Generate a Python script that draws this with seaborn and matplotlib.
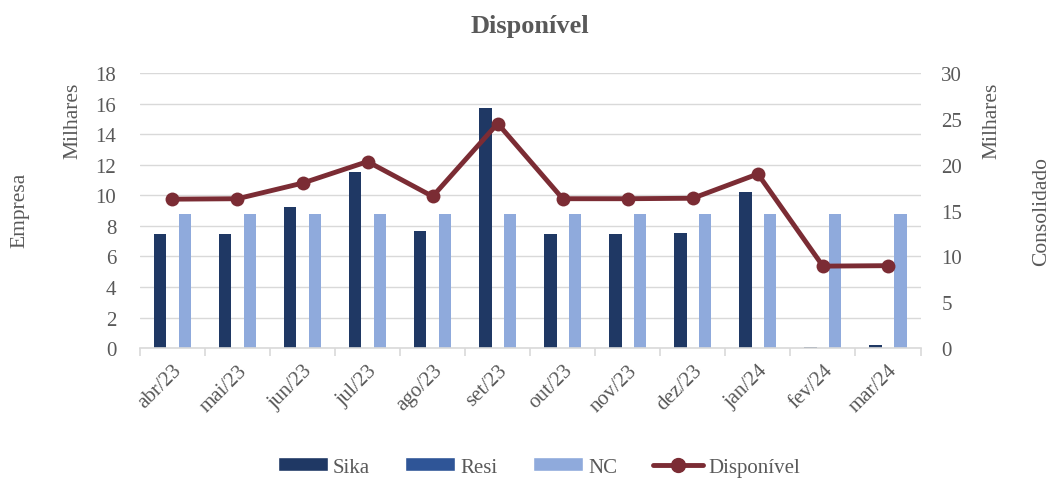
import numpy as np
import pandas as pd
import matplotlib
matplotlib.use("Agg")
import matplotlib.pyplot as plt
from matplotlib.patches import Patch
from matplotlib.lines import Line2D
import seaborn as sns

meses = ['abr/23', 'mai/23', 'jun/23', 'jul/23', 'ago/23', 'set/23',
         'out/23', 'nov/23', 'dez/23', 'jan/24', 'fev/24', 'mar/24']
sika = [7.46, 7.46, 9.23, 11.5, 7.7, 15.7, 7.46, 7.46, 7.53, 10.2, 0.1, 0.2]
resi = [0, 0, 0, 0, 0, 0, 0, 0, 0, 0, 0, 0]
nc = [8.8, 8.8, 8.8, 8.8, 8.8, 8.8, 8.8, 8.8, 8.8, 8.8, 8.8, 8.8]
disponivel = [16.25, 16.3, 18.0, 20.35, 16.55, 24.5, 16.3, 16.3, 16.35, 19.0, 8.95, 9.0]

series = ['Sika', 'Resi', 'NC']
cores = {'Sika': '#1F3864', 'Resi': '#2F5597', 'NC': '#8FAADC'}
cor_linha = '#7B2C34'
cinza = '#595959'
fonte = ['Liberation Serif', 'DejaVu Serif']
fs = 15

df = pd.DataFrame({
    'mes': meses * 3,
    'serie': ['Sika'] * 12 + ['Resi'] * 12 + ['NC'] * 12,
    'valor': sika + resi + nc,
})
df_linha = pd.DataFrame({'pos': np.arange(len(meses)), 'valor': disponivel})

sns.set_theme(style='white')
plt.rcParams['font.family'] = fonte
plt.rcParams['text.color'] = cinza
plt.rcParams['axes.labelcolor'] = cinza
plt.rcParams['xtick.color'] = cinza
plt.rcParams['ytick.color'] = cinza

fig = plt.figure(figsize=(10.52, 4.81), dpi=100)
ax = fig.add_axes([0.133, 0.274, 0.742, 0.572])

sns.barplot(data=df, x='mes', y='valor', hue='serie', hue_order=series,
            palette=cores, width=0.57, saturation=1, linewidth=0, ax=ax,
            legend=False)

ax.set_ylim(0, 18)
ax.set_yticks(np.arange(0, 19, 2))
ax.set_xlim(-0.5, len(meses) - 0.5)
ax.grid(axis='y', color='#D9D9D9', linewidth=1)
ax.set_axisbelow(True)
for s in ['top', 'right', 'left']:
    ax.spines[s].set_visible(False)
ax.spines['bottom'].set_color('#D9D9D9')
ax.spines['bottom'].set_linewidth(1.2)
ax.set_xticks(np.arange(len(meses)))
ax.set_xticklabels(meses, rotation=45, ha='right', rotation_mode='anchor')
ax.set_xticks(np.arange(-0.5, len(meses)), minor=True)
ax.tick_params(axis='x', which='major', length=0, labelsize=fs, pad=9)
ax.tick_params(axis='x', which='minor', bottom=True, length=6,
               color='#D9D9D9', width=1.2)
ax.tick_params(axis='y', length=0, labelsize=fs, pad=17)
ax.set_xlabel('')
ax.set_ylabel('')

ax2 = ax.twinx()
sns.lineplot(data=df_linha, x='pos', y='valor', sort=False, color=cor_linha,
             linewidth=3.5, marker='o', markersize=10, markeredgewidth=0,
             ax=ax2)
ax2.set_ylim(0, 30)
ax2.set_yticks(np.arange(0, 31, 5))
ax2.set_xlim(-0.5, len(meses) - 0.5)
for s in ['top', 'right', 'left', 'bottom']:
    ax2.spines[s].set_visible(False)
ax2.tick_params(axis='y', length=0, labelsize=fs, pad=15)
ax2.set_xlabel('')
ax2.set_ylabel('')

fig.text(0.069, 0.748, 'Milhares', rotation=90, ha='center', va='center', fontsize=fs + 0.5)
fig.text(0.019, 0.563, 'Empresa', rotation=90, ha='center', va='center', fontsize=fs + 0.5)
fig.text(0.943, 0.748, 'Milhares', rotation=90, ha='center', va='center', fontsize=fs + 0.5)
fig.text(0.990, 0.56, 'Consolidado', rotation=90, ha='center', va='center', fontsize=fs + 0.5)

fig.text(0.504, 0.945, 'Disponível', ha='center', va='center', fontsize=19,
         fontweight='bold')

handles = [Patch(facecolor=cores[s], label=s) for s in series]
handles.append(Line2D([0], [0], color=cor_linha, linewidth=3.5, marker='o',
                      markersize=10, label='Disponível'))
leg = fig.legend(handles=handles, loc='center', bbox_to_anchor=(0.512, 0.027),
                 ncol=4, frameon=False, prop={'family': fonte, 'size': fs},
                 handlelength=2.4, handleheight=0.65, handletextpad=0.25,
                 columnspacing=1.7)
for t in leg.get_texts():
    t.set_fontfamily(fonte)
    t.set_color(cinza)

fig.savefig('out.png', dpi=100)
